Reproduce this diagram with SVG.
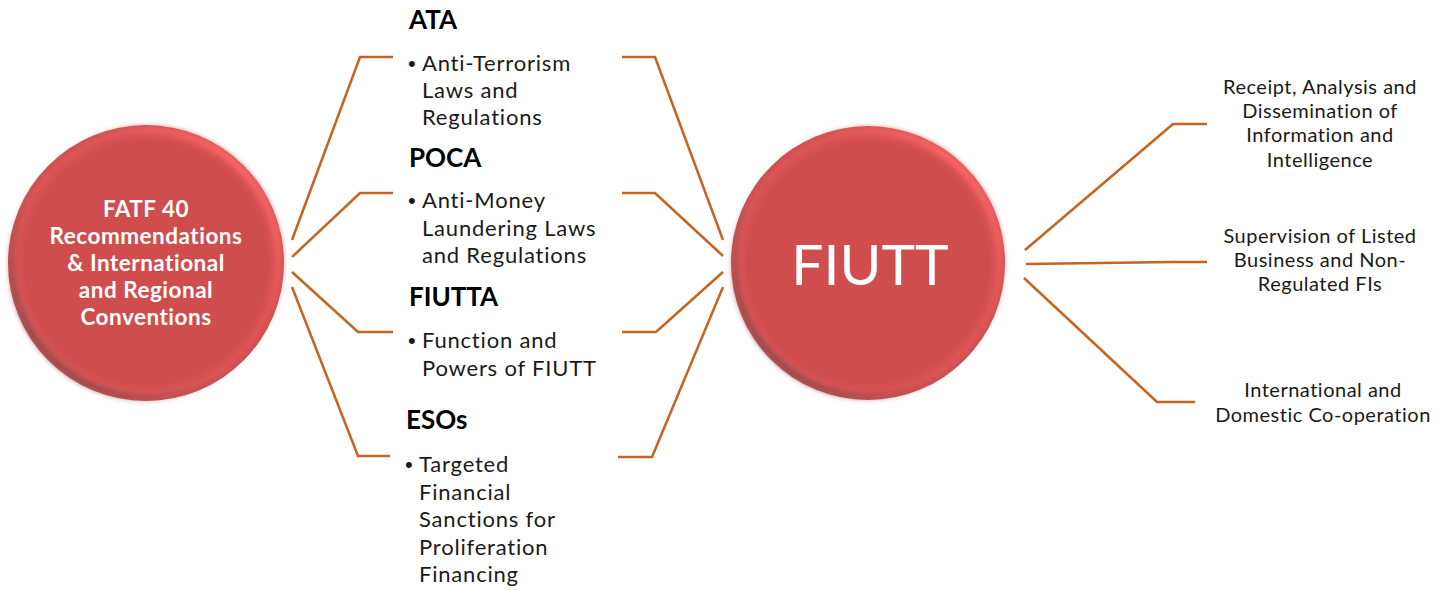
<svg xmlns="http://www.w3.org/2000/svg" width="1450" height="590" viewBox="0 0 1450 590">
<style>
.conn{fill:none;stroke:#C5631F;stroke-width:2.5;stroke-linejoin:miter}
.head{font-family:Lato,"Open Sans",sans-serif;font-weight:bold;font-size:26px;fill:#000}
.item{font-family:Lato,"Open Sans",sans-serif;font-size:22px;letter-spacing:0.8px;fill:#1a1a1a}
.bul{font-family:"Liberation Sans",sans-serif;font-size:22px;fill:#1a1a1a}
.right{font-family:Lato,"Open Sans",sans-serif;font-size:20px;letter-spacing:0.5px;fill:#1a1a1a;text-anchor:middle}
.ctext{font-family:Lato,"Open Sans",sans-serif;font-weight:bold;font-size:22.5px;letter-spacing:0.5px;fill:#fff;text-anchor:middle}
.big{font-family:Lato,"Open Sans",sans-serif;font-size:57px;fill:#fff;text-anchor:middle}
</style>
<defs>
<radialGradient id="ballFill" cx="0.5" cy="0.5" r="0.5">
<stop offset="0" stop-color="#D04D4E"/>
<stop offset="0.88" stop-color="#D04D4E"/>
<stop offset="0.95" stop-color="#DE5556"/>
<stop offset="1" stop-color="#C65152"/>
</radialGradient>
<linearGradient id="rim" x1="0.85" y1="0.15" x2="0.15" y2="0.85">
<stop offset="0" stop-color="#FF6666" stop-opacity="0.9"/>
<stop offset="0.5" stop-color="#D04D4E" stop-opacity="0"/>
<stop offset="1" stop-color="#8A4A4A" stop-opacity="0.8"/>
</linearGradient>
<filter id="soft" x="-10%" y="-10%" width="120%" height="120%">
<feGaussianBlur stdDeviation="2.5"/>
</filter>
</defs>

<g id="connectors">
<polyline class="conn" points="292,240 360,57 393,57"/>
<polyline class="conn" points="292,257 360,193 393,193"/>
<polyline class="conn" points="292,272 358,332 393,332"/>
<polyline class="conn" points="292,287 358,456 390,456"/>
<polyline class="conn" points="622,57 655,57 723,240"/>
<polyline class="conn" points="622,193 655,193 723,256"/>
<polyline class="conn" points="622,332 656,332 723,272"/>
<polyline class="conn" points="618,457 652,457 723,287"/>
<polyline class="conn" points="1025,250 1173,124 1207,124"/>
<polyline class="conn" points="1026,264 1173,262 1207,262"/>
<polyline class="conn" points="1024,278 1157,402 1195,402"/>
</g>

<g id="node-fatf">
<circle cx="146" cy="263" r="138" fill="url(#ballFill)"/>
<circle cx="146" cy="263" r="134" fill="none" stroke="url(#rim)" stroke-width="7" filter="url(#soft)"/>
<text class="ctext" x="146" y="217">FATF 40</text>
<text class="ctext" x="146" y="244">Recommendations</text>
<text class="ctext" x="146" y="271">&amp; International</text>
<text class="ctext" x="146" y="298">and Regional</text>
<text class="ctext" x="146" y="325">Conventions</text>
</g>

<g id="node-ata">
<text class="head" x="409" y="29">ATA</text>
<text class="bul" x="408" y="71">•</text>
<text class="item" x="422" y="71">Anti-Terrorism</text>
<text class="item" x="422" y="98">Laws and</text>
<text class="item" x="422" y="125">Regulations</text>
</g>

<g id="node-poca">
<text class="head" x="409" y="167">POCA</text>
<text class="bul" x="408" y="208">•</text>
<text class="item" x="422" y="208">Anti-Money</text>
<text class="item" x="422" y="236">Laundering Laws</text>
<text class="item" x="422" y="263">and Regulations</text>
</g>

<g id="node-fiutta">
<text class="head" x="409" y="306">FIUTTA</text>
<text class="bul" x="408" y="348">•</text>
<text class="item" x="422" y="348">Function and</text>
<text class="item" x="422" y="376">Powers of FIUTT</text>
</g>

<g id="node-esos">
<text class="head" x="406" y="429">ESOs</text>
<text class="bul" x="405" y="472">•</text>
<text class="item" x="419" y="472">Targeted</text>
<text class="item" x="419" y="500">Financial</text>
<text class="item" x="419" y="527">Sanctions for</text>
<text class="item" x="419" y="555">Proliferation</text>
<text class="item" x="419" y="582">Financing</text>
</g>

<g id="node-fiutt">
<circle cx="868" cy="263" r="137" fill="url(#ballFill)"/>
<circle cx="868" cy="263" r="133" fill="none" stroke="url(#rim)" stroke-width="7" filter="url(#soft)"/>
<text class="big" x="870" y="285">FIUTT</text>
</g>

<g id="node-receipt">
<text class="right" x="1320" y="94">Receipt, Analysis and</text>
<text class="right" x="1320" y="118">Dissemination of</text>
<text class="right" x="1320" y="142">Information and</text>
<text class="right" x="1320" y="167">Intelligence</text>
</g>

<g id="node-supervision">
<text class="right" x="1320" y="243">Supervision of Listed</text>
<text class="right" x="1320" y="267">Business and Non-</text>
<text class="right" x="1320" y="291">Regulated FIs</text>
</g>

<g id="node-cooperation">
<text class="right" x="1323" y="397">International and</text>
<text class="right" x="1323" y="422">Domestic Co-operation</text>
</g>
</svg>
